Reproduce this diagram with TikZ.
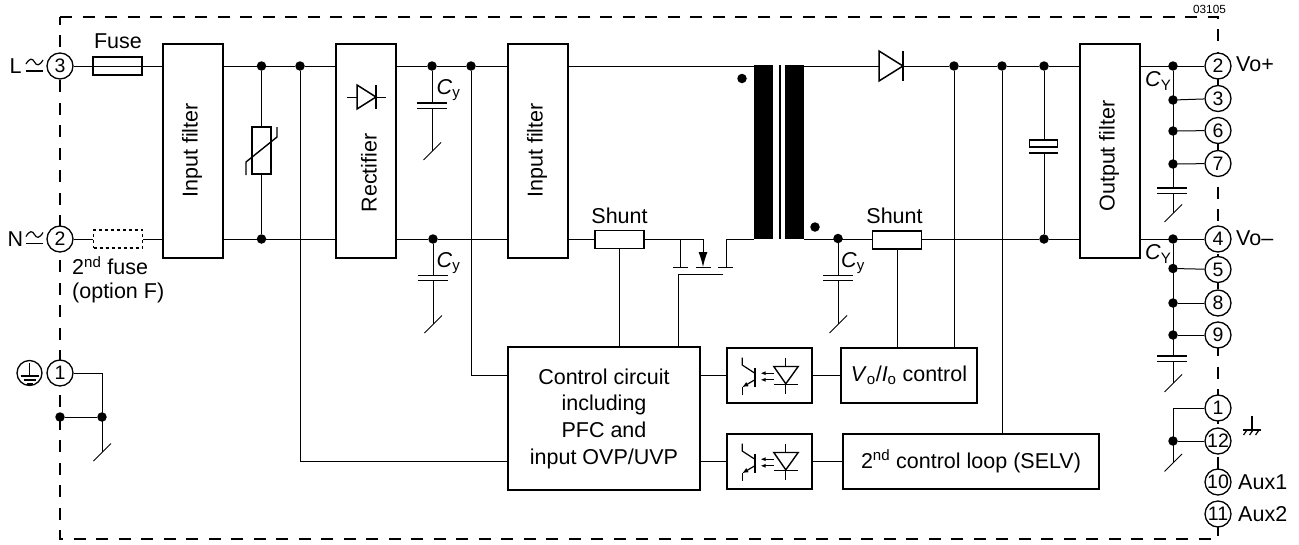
\documentclass[tikz,border=0pt]{standalone}
\usepackage{xcolor}
\usepackage{fontspec}
\setmainfont{Liberation Sans}
\usetikzlibrary{arrows.meta}

\tikzset{
    wire/.style={line width=1pt},
    outline/.style={line width=1.5pt},
    frameline/.style={line width=1.5pt, dash pattern=on 12pt off 10.5pt},
    plate/.style={line width=1.4pt},
    labeltext/.style={font=\fontsize{21.5}{26.7}\selectfont, inner sep=0pt},
    turned/.style={labeltext, rotate=90},
    blockbox/.style={draw, outline, fill=white, inner sep=0pt, font=\fontsize{21.5}{26.7}\selectfont},
    filterbox/.style={blockbox, minimum width=60pt, minimum height=214pt},
    optobox/.style={blockbox, minimum width=85pt, minimum height=55pt},
    partbox/.style={blockbox, minimum width=49pt, minimum height=18pt},
    termnode/.style={circle, draw, fill=white, line width=1.3pt, minimum size=26pt, inner sep=0pt, font=\fontsize{19.5}{20}\selectfont},
    dotnode/.style={circle, fill=black, minimum size=9.5pt, inner sep=0pt},
    capnode/.style={fill=white, minimum width=30pt, minimum height=5pt, inner sep=0pt},
    coilnode/.style={fill=black, minimum width=19pt, minimum height=174pt, inner sep=0pt},
    gndslash/.pic={\draw[line width=0.8pt] (-8.5,9) -- (9,-8.5);},
    acmark/.pic={
        \draw[line width=1.2pt] (-8.5,-2) .. controls (-5,-8) and (-2,-8) .. (0,-4) .. controls (2,0) and (5,0) .. (8.5,-6);
        \draw[line width=1.4pt] (-8.5,5) -- (8.5,5);
    },
    earthmark/.pic={
        \draw[line width=1.2pt] (0,-10) -- (0,3);
        \draw[line width=1.4pt] (-9,3) -- (9,3);
        \draw[line width=1.4pt] (-6,7) -- (6,7);
        \draw[line width=1.4pt] (-3,11) -- (3,11);
    },
    chassismark/.pic={
        \draw[line width=1.2pt] (0,0) -- (0,14);
        \draw[line width=1.2pt] (-9,14) -- (9,14);
        \draw[line width=1.2pt] (-5,14) -- (-8.5,19);
        \draw[line width=1.2pt] (1,14) -- (-2.5,19);
        \draw[line width=1.2pt] (7,14) -- (3.5,19);
    },
    optomark/.pic={
        % Phototransistor
        \draw[line width=1.6pt] (-14.7,-8) -- (-14.7,11);
        \draw[line width=1.2pt] (-27.3,-18) -- (-27.3,-10.5) -- (-14.7,-2.3);
        \draw[line width=1.2pt] (-27.3,19.3) -- (-27.3,11.7);
        \draw[line width=1.2pt, {Latex[length=6pt,width=5pt]}-] (-27.3,11.7) -- (-14.7,4.3);
        % Light
        \draw[line width=1pt, -{Latex[length=5pt,width=4pt]}] (4.3,-2.3) -- (-9,-2.3);
        \draw[line width=1pt, -{Latex[length=5pt,width=4pt]}] (4.3,4.3) -- (-9,4.3);
        % LED
        \draw[line width=1.4pt] (4.3,-9) -- (28.7,-9) -- (16.3,8.3) -- cycle;
        \draw[line width=1.4pt] (4.3,8.7) -- (28.7,8.7);
        \draw[line width=1.2pt] (16.3,-18) -- (16.3,-9);
        \draw[line width=1.2pt] (16.3,8.7) -- (16.3,18.7);
    }
}

\newcommand{\capplates}[1]{
    \draw[plate] (#1.north west) -- (#1.north east);
    \draw[plate] (#1.south west) -- (#1.south east);
}

\begin{document}
\begin{tikzpicture}[x=1pt, y=-1pt]
    \useasboundingbox (0,0) rectangle (1299,544);

    % Frame
    \draw[frameline] (60,17) -- (1218,17) -- (1218,539) -- (60,539) -- cycle;
    \node[font=\fontsize{11.8}{12}\selectfont, inner sep=0pt] (drawingno) at (1209.5,9) {03105};

    % Terminals
    \node[termnode] (termL) at (60,66) {3};
    \node[termnode] (termN) at (60,239) {2};
    \node[termnode] (termPE) at (60,373) {1};
    \node[termnode] (termVp) at (1218,66) {2};
    \node[termnode] (termC) at (1218,98.5) {3};
    \node[termnode] (termF) at (1218,130.5) {6};
    \node[termnode] (termG) at (1218,163.5) {7};
    \node[termnode] (termVm) at (1218,239) {4};
    \node[termnode] (termE) at (1218,269.5) {5};
    \node[termnode] (termH) at (1218,303) {8};
    \node[termnode] (termI) at (1218,335) {9};
    \node[termnode] (termChA) at (1218,408) {1};
    \node[termnode] (termChB) at (1218,441) {12};
    \node[termnode] (termAuxA) at (1218,482) {10};
    \node[termnode] (termAuxB) at (1218,514) {11};

    % Terminal labels
    \node[labeltext, anchor=west] (labelL) at (9.5,66.5) {L};
    \node[labeltext, anchor=west] (labelN) at (7.5,239.5) {N};
    \path (34.5,66) pic {acmark};
    \path (34.5,238.5) pic {acmark};
    \node[circle, draw, line width=1.3pt, minimum size=25pt, inner sep=0pt] (earthring) at (29.5,373) {};
    \path (earthring.center) pic {earthmark};
    \node[labeltext, anchor=west] (labelVp) at (1236,64.5) {Vo+};
    \node[labeltext, anchor=west] (labelVm) at (1236,238) {Vo–};
    \node[labeltext, anchor=west] (labelAuxA) at (1238,482) {Aux1};
    \node[labeltext, anchor=west] (labelAuxB) at (1238,514) {Aux2};
    \path (1252,416) pic {chassismark};

    % Input side blocks
    \node[partbox] (fusea) at (117.5,66) {};
    \node[partbox, dashed, line width=1.2pt] (fuseb) at (118,239) {};
    \node[labeltext] (labelfuse) at (118,41) {Fuse};
    \node[labeltext, anchor=west, align=left] (labelfuseb) at (72,279.5) {2\textsuperscript{nd} fuse\\[-3.5pt](option F)};
    \node[filterbox] (filtera) at (193,151) {};
    \node[turned] (labelfiltera) at (192,150.5) {Input filter};
    \node[filterbox] (rectifier) at (366,151) {};
    \node[turned] (labelrectifier) at (369,173) {Rectifier};
    \node[filterbox] (filterb) at (538,151) {};
    \node[turned] (labelfilterb) at (537,150.5) {Input filter};
    \node[partbox] (shunta) at (619.5,239.5) {};
    \node[labeltext] (labelshunta) at (619.5,216) {Shunt};

    % Transformer
    \node[coilnode] (coila) at (763.5,152) {};
    \node[coilnode] (coilb) at (794.5,152) {};
    \node[fill=black, minimum width=2pt, minimum height=174pt, inner sep=0pt] (transcore) at (779.5,152) {};
    \node[dotnode] (phasea) at (742,78.5) {};
    \node[dotnode] (phaseb) at (815,227) {};

    % Output side blocks
    \node[partbox] (shuntb) at (897,240) {};
    \node[labeltext] (labelshuntb) at (894.5,216) {Shunt};
    \node[filterbox] (filterc) at (1110,151) {};
    \node[turned] (labelfilterc) at (1109,156) {Output filter};

    % Control blocks
    \node[blockbox, minimum width=192pt, minimum height=143pt, align=center] (ctrl) at (604,418.5) {Control circuit\\including\\PFC and\\input OVP/UVP};
    \node[optobox] (optoa) at (769.5,375.5) {};
    \node[optobox] (optob) at (769.5,461.5) {};
    \path (optoa.center) pic {optomark};
    \path (optob.center) pic {optomark};
    \node[blockbox, minimum width=136pt, minimum height=55pt] (voctrl) at (909,375.5) {\textit{V}\textsubscript{o}/\textit{I}\textsubscript{o} control};
    \node[blockbox, minimum width=256pt, minimum height=55pt] (loopctrl) at (971,461.5) {2\textsuperscript{nd} control loop (SELV)};

    % Junctions
    \node[dotnode] (jvara) at (261.5,66) {};
    \node[dotnode] (jvarb) at (261.5,239) {};
    \node[dotnode] (jsense) at (300,66) {};
    \node[dotnode] (jcapa) at (432,66) {};
    \node[dotnode] (jcapb) at (433,239) {};
    \node[dotnode] (jsupply) at (471,66) {};
    \node[dotnode] (jcapc) at (838,238.5) {};
    \node[dotnode] (jvo) at (954,66) {};
    \node[dotnode] (jloop) at (1002,66) {};
    \node[dotnode] (jelcapa) at (1044,66) {};
    \node[dotnode] (jelcapb) at (1044,239) {};
    \node[dotnode] (jpa) at (1173,66) {};
    \node[dotnode] (jpb) at (1173,100) {};
    \node[dotnode] (jpc) at (1173,131) {};
    \node[dotnode] (jpd) at (1173,164) {};
    \node[dotnode] (jma) at (1173,239) {};
    \node[dotnode] (jmb) at (1173,268.5) {};
    \node[dotnode] (jmc) at (1173,303) {};
    \node[dotnode] (jmd) at (1173,335) {};
    \node[dotnode] (jcha) at (1173,441) {};
    \node[dotnode] (jpea) at (60,417) {};
    \node[dotnode] (jpeb) at (102,417) {};

    % Capacitors
    \node[capnode] (capa) at (432,105.5) {};
    \node[capnode] (capb) at (433,278) {};
    \node[capnode] (capc) at (838,278) {};
    \node[capnode] (capd) at (1172,190.5) {};
    \node[capnode] (cape) at (1172,358.5) {};
    \capplates{capa}
    \capplates{capb}
    \capplates{capc}
    \capplates{capd}
    \capplates{cape}
    \node[labeltext, anchor=west] (labelcapa) at (436.5,90) {\textit{C}\textsubscript{y}};
    \node[labeltext, anchor=west] (labelcapb) at (436.5,263) {\textit{C}\textsubscript{y}};
    \node[labeltext, anchor=west] (labelcapc) at (841,263) {\textit{C}\textsubscript{y}};
    \node[labeltext, anchor=west] (labelcapd) at (1145,81) {\textit{C}\textsubscript{Y}};
    \node[labeltext, anchor=west] (labelcape) at (1145,254) {\textit{C}\textsubscript{Y}};

    % Ground points
    \coordinate (gnda) at (432,151);
    \coordinate (gndb) at (433,324);
    \coordinate (gndc) at (838,324);
    \coordinate (gndd) at (1173,213);
    \coordinate (gnde) at (1173,383);
    \coordinate (gndf) at (1173,462.5);
    \coordinate (gndg) at (102,452);
    \path (gnda) pic {gndslash};
    \path (gndb) pic {gndslash};
    \path (gndc) pic {gndslash};
    \path (gndd) pic {gndslash};
    \path (gnde) pic {gndslash};
    \path (gndf) pic {gndslash};
    \path (gndg) pic {gndslash};

    % Top rail
    \draw[wire] (termL) -- (fusea.east);
    \draw[wire] (fusea.east) -- (fusea.east -| filtera.west);
    \draw[wire] (filtera.east |- termL) -- (jvara);
    \draw[wire] (jvara) -- (jsense);
    \draw[wire] (jsense) -- (jsense -| rectifier.west);
    \draw[wire] (rectifier.east |- termL) -- (jcapa);
    \draw[wire] (jcapa) -- (jsupply);
    \draw[wire] (jsupply) -- (jsupply -| filterb.west);
    \draw[wire] (filterb.east |- termL) -- (termL -| coila.west);
    \draw[wire] (termL -| coilb.east) -- (jvo);
    \draw[wire] (jvo) -- (jloop);
    \draw[wire] (jloop) -- (jelcapa);
    \draw[wire] (jelcapa) -- (jelcapa -| filterc.west);
    \draw[wire] (filterc.east |- termVp) -- (termVp);

    % Bottom rail
    \draw[wire] (termN) -- (fuseb.west);
    \draw[wire] (fuseb.east) -- (fuseb.east -| filtera.west);
    \draw[wire] (filtera.east |- termN) -- (jvarb);
    \draw[wire] (jvarb) -- (jvarb -| rectifier.west);
    \draw[wire] (rectifier.east |- termN) -- (jcapb);
    \draw[wire] (jcapb) -- (jcapb -| filterb.west);
    \draw[wire] (filterb.east |- termN) -- (termN -| shunta.west);
    \draw[wire] (termN -| shuntb.east) -- (jelcapb);
    \draw[wire] (jelcapb) -- (jelcapb -| filterc.west);
    \draw[wire] (filterc.east |- termVm) -- (termVm);
    \draw[wire] (termN -| coilb.east) -- (termN -| shuntb.west);

    % Varistor
    \node[blockbox, minimum width=19pt, minimum height=47pt] (varistor) at (261.5,150.5) {};
    \coordinate (varlow) at (246,175);
    \coordinate (varhigh) at (277,127);
    \draw[wire] (jvara) -- (varistor.north);
    \draw[wire] (varistor.south) -- (jvarb);
    \draw[line width=1.4pt] (varlow) -- ++(0,-13) -- (277,137) -- (varhigh);

    % Rectifier diode
    \coordinate (rectin) at (347,97);
    \coordinate (rectout) at (386,97);
    \draw[wire] (rectin) -- (rectout);
    \draw[outline, fill=white] (357,85) -- (357,109) -- (376,97) -- cycle;
    \draw[outline] (376,85) -- (376,109);

    % Output diode
    \draw[outline, fill=white] (879,51) -- (879,81) -- (903,66) -- cycle;
    \draw[outline] (903,51) -- (903,81);

    % MOSFET
    \coordinate (fetsource) at (703,239);
    \coordinate (fetbody) at (680,239);
    \coordinate (fetdrain) at (726,239);
    \coordinate (fetgate) at (723,274);
    \coordinate (fetgatein) at (678,347);
    \draw[wire] (shunta.east |- termN) -- (fetsource);
    \draw[wire] (fetbody) -- (680,267);
    \draw[wire, -{Latex[length=15pt,width=9pt]}] (fetsource) -- (703,267);
    \draw[wire] (termN -| coila.west) -- (fetdrain) -- (726,267);
    \draw[wire] (673,267) -- (688,267);
    \draw[wire] (696,267) -- (711,267);
    \draw[wire] (718,267) -- (733,267);
    \draw[wire] (fetgate) -| (fetgatein);

    % Capacitor legs
    \draw[wire] (jcapa) -- (capa.north);
    \draw[wire] (capa.south) -- (gnda);
    \draw[wire] (jcapb) -- (capb.north);
    \draw[wire] (capb.south) -- (gndb);
    \draw[wire] (termN -| jcapc) -- (capc.north);
    \draw[wire] (capc.south) -- (gndc);

    % Bulk capacitor
    \node[blockbox, minimum width=28pt, minimum height=7pt] (elcap) at (1043.5,143.5) {};
    \coordinate (elplate) at (1044,153);
    \draw[plate] (1029,153) -- (1058,153);
    \draw[wire] (jelcapa) -- (elcap.north -| jelcapa);
    \draw[wire] (elplate) -- (jelcapb);

    % Output terminals
    \draw[wire] (jpa) -- (capd.north -| jpa);
    \draw[wire] (capd.south -| jpa) -- (gndd);
    \draw[wire] (jpb) -- (termC);
    \draw[wire] (jpc) -- (termF);
    \draw[wire] (jpd) -- (termG);
    \draw[wire] (jma) -- (cape.north -| jma);
    \draw[wire] (cape.south -| jma) -- (gnde);
    \draw[wire] (jmb) -- (termE);
    \draw[wire] (jmc) -- (termH);
    \draw[wire] (jmd) -- (termI);
    \draw[wire] (termChA) -| (gndf);
    \draw[wire] (jcha) -- (termChB);

    % Earth
    \draw[wire] (termPE) -| (gndg);
    \draw[wire] (jpea) -- (jpeb);

    % Control wiring
    \draw[wire] (jsupply) |- (optoa.west -| ctrl.west);
    \draw[wire] (jsense) |- (ctrl.west |- optob.west);
    \draw[wire] (shunta.south) -- (shunta.south |- ctrl.north);
    \draw[wire] (ctrl.east |- optoa.west) -- (optoa.west);
    \draw[wire] (ctrl.east |- optob.west) -- (optob.west);
    \draw[wire] (optoa.east) -- (voctrl.west);
    \draw[wire] (optob.east) -- (loopctrl.west);
    \draw[wire] (shuntb.south) -- (shuntb.south |- voctrl.north);
    \draw[wire] (jvo) -- (jvo |- voctrl.north);
    \draw[wire] (jloop) -- (jloop |- loopctrl.north);
\end{tikzpicture}
\end{document}
